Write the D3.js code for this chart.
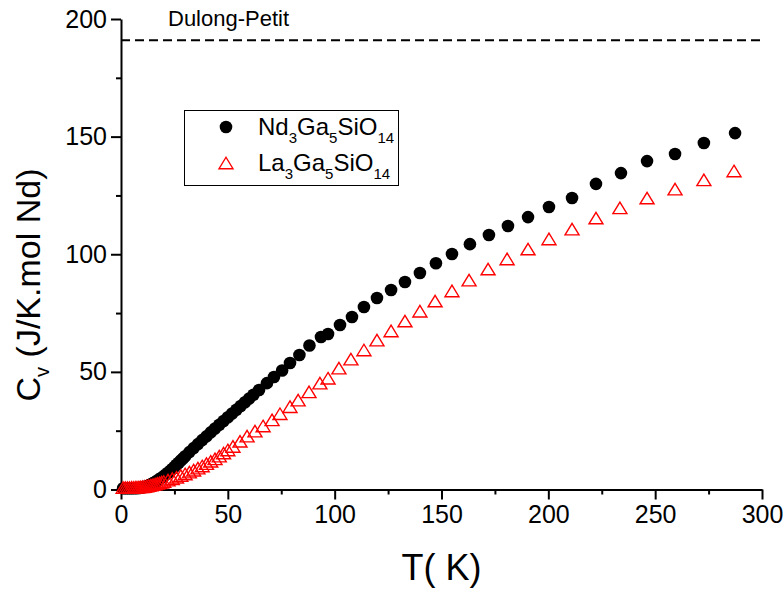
<!DOCTYPE html>
<html><head><meta charset="utf-8">
<script src="https://cdn.jsdelivr.net/npm/d3@7"></script>
<style>
html,body{margin:0;padding:0;background:#fff;}
text{font-family:"Liberation Sans",Arial,sans-serif;}
</style></head>
<body>
<svg id="chart" width="783" height="593"></svg>
<script>
// ---- data ----
const ndT = [1,2,3,4,5,6,7,8,9,10,11,12,13,14,15,16,17,18,19,20,21,22,23,24,25,26,27,28,29,30,
  32,34,36,38,40,42,44,46,48,50,52,54,56,58,60,62,
  64.6,68.3,71.6,75.4,79.1,83.5,88.2,93.6,96.9,
  102.5,108.1,113.7,119.8,126.4,132.9,139.9,147.4,154.9,163.3,
  172.2,181.1,190.5,200.3,211.1,222.3,234.0,246.2,259.3,272.8,287.4];
const ndC = [0.5,0.5,0.5,0.5,0.5,0.5,0.6,0.6,0.7,0.9,1.1,1.4,1.8,2.2,2.7,3.2,3.8,4.4,5.0,5.7,6.4,7.1,7.9,8.7,9.6,10.5,11.4,12.3,13.2,14.1,
  15.9,17.6,19.3,21.0,22.6,24.3,25.9,27.5,29.1,30.7,32.3,33.9,35.5,37.1,38.7,40.3,
  42.3,45.2,47.8,50.6,53.8,57.2,61.2,64.8,66.1,
  69.9,73.3,77.6,81.4,84.8,88.2,92.0,96.2,100.1,104.3,
  108.2,112.0,115.8,120.1,123.9,129.9,134.5,139.6,142.6,147.3,151.5];
const laT = [1,2,3,4,5,6,7,8,9,10,11,12,13,14,15,16,17,18,19,20,
  22,24,26,28,30,32,34,36,38,40,42,44,46,48,50,
  52.4,55.7,59.0,62.7,66.5,70.7,74.4,79.1,82.9,88.0,93.1,96.9,
  102.0,107.6,113.7,119.8,126.4,132.9,139.9,147.0,154.9,162.9,
  171.8,180.7,190.5,200.3,211.1,222.3,233.5,246.2,259.3,272.8,286.9];
const laC = [0.8,0.8,0.8,0.8,0.9,0.9,1.0,1.0,1.1,1.2,1.3,1.5,1.7,1.9,2.1,2.3,2.6,2.8,3.1,3.4,
  4.0,4.6,5.2,5.9,6.6,7.4,8.2,9.1,10.0,11.0,12.0,13.0,14.2,15.5,16.8,
  18.3,20.5,22.7,24.8,27.0,29.6,32.2,35.2,38.0,41.5,45.2,47.3,
  51.6,55.4,59.3,63.5,67.4,71.6,75.8,80.1,84.4,89.0,
  93.7,98.0,102.2,106.5,110.7,115.4,119.7,123.9,127.7,131.6,135.4];
const dulongPetit = 191;
const xTicks = [0,50,100,150,200,250,300];
const xMinor = [25,75,125,175,225,275];
const yTicks = [0,50,100,150,200];
const yMinor = [25,75,125,175];
const seriesNames = ["Nd", "La"];

// ---- layout ----
const svg = d3.select("#chart");
const x = d3.scaleLinear().domain([0,300]).range([121,762]);
const y = d3.scaleLinear().domain([0,200]).range([489.5,19]);

// dashed Dulong-Petit line
svg.append("line")
  .attr("x1", x(0)).attr("x2", x(300))
  .attr("y1", y(dulongPetit)).attr("y2", y(dulongPetit))
  .attr("stroke","#000").attr("stroke-width",2).attr("stroke-dasharray","9,5");
svg.append("text").attr("x",168).attr("y",26).attr("font-size",22).text("Dulong-Petit");

// axes
const gx = svg.append("g").attr("transform",`translate(0,${y(0)})`)
  .call(d3.axisBottom(x).tickValues(xTicks).tickSize(10).tickSizeOuter(0).tickPadding(6).tickFormat(d3.format("d")));
const gxm = svg.append("g").attr("transform",`translate(0,${y(0)})`)
  .call(d3.axisBottom(x).tickValues(xMinor).tickSize(5).tickFormat(""));
gxm.select(".domain").remove();
const gy = svg.append("g").attr("transform",`translate(${x(0)},0)`)
  .call(d3.axisLeft(y).tickValues(yTicks).tickSize(10).tickSizeOuter(0).tickPadding(4).tickFormat(d3.format("d")));
const gym = svg.append("g").attr("transform",`translate(${x(0)},0)`)
  .call(d3.axisLeft(y).tickValues(yMinor).tickSize(5).tickFormat(""));
gym.select(".domain").remove();
svg.selectAll(".domain, .tick line").attr("stroke","#000").attr("stroke-width",2);
gx.selectAll("text").attr("font-size",25).attr("font-family","Liberation Sans, Arial, sans-serif").attr("fill","#000").attr("dy","0.68em");
gy.selectAll("text").attr("font-size",25).attr("font-family","Liberation Sans, Arial, sans-serif").attr("fill","#000");

// axis titles
svg.append("text").attr("x",441.5).attr("y",580).attr("text-anchor","middle")
  .attr("font-size",36).text("T( K)");
const yt = svg.append("text").attr("transform","translate(40,285) rotate(-90)")
  .attr("text-anchor","middle").attr("font-size",34);
yt.append("tspan").text("C");
yt.append("tspan").attr("font-size",20).attr("dy",9).text("v");
yt.append("tspan").attr("dy",-9).text(" (J/K.mol Nd)");

// data
const tri = "M0,-5.75L7,5.75L-7,5.75Z";
const nd = ndT.map((t,i)=>({t, c: ndC[i]}));
const la = laT.map((t,i)=>({t, c: laC[i]}));
svg.append("g").selectAll("circle").data(nd).join("circle")
  .attr("cx",d=>x(d.t)).attr("cy",d=>y(d.c)).attr("r",6.3).attr("fill","#000");
svg.append("g").selectAll("path").data(la).join("path")
  .attr("d",tri).attr("transform",d=>`translate(${x(d.t)},${y(d.c)})`)
  .attr("fill","none").attr("stroke","#ff0000").attr("stroke-width",1.4);

// legend
const lg = svg.append("g");
lg.append("rect").attr("x",184.5).attr("y",110.5).attr("width",214).attr("height",75)
  .attr("fill","#fff").attr("stroke","#000").attr("stroke-width",1);
lg.append("circle").attr("cx",226).attr("cy",127).attr("r",6.3).attr("fill","#000");
lg.append("path").attr("d",tri).attr("transform","translate(226,163)")
  .attr("fill","none").attr("stroke","#ff0000").attr("stroke-width",1.4);
function formula(yy, el){
  const t = lg.append("text").attr("x",258).attr("y",yy).attr("font-size",24);
  t.append("tspan").text(el);
  t.append("tspan").attr("font-size",15).attr("dy",8).text("3");
  t.append("tspan").attr("dy",-8).text("Ga");
  t.append("tspan").attr("font-size",15).attr("dy",8).text("5");
  t.append("tspan").attr("dy",-8).text("SiO");
  t.append("tspan").attr("font-size",15).attr("dy",8).text("14");
}
formula(135, seriesNames[0]);
formula(171, seriesNames[1]);
</script>
</body></html>
